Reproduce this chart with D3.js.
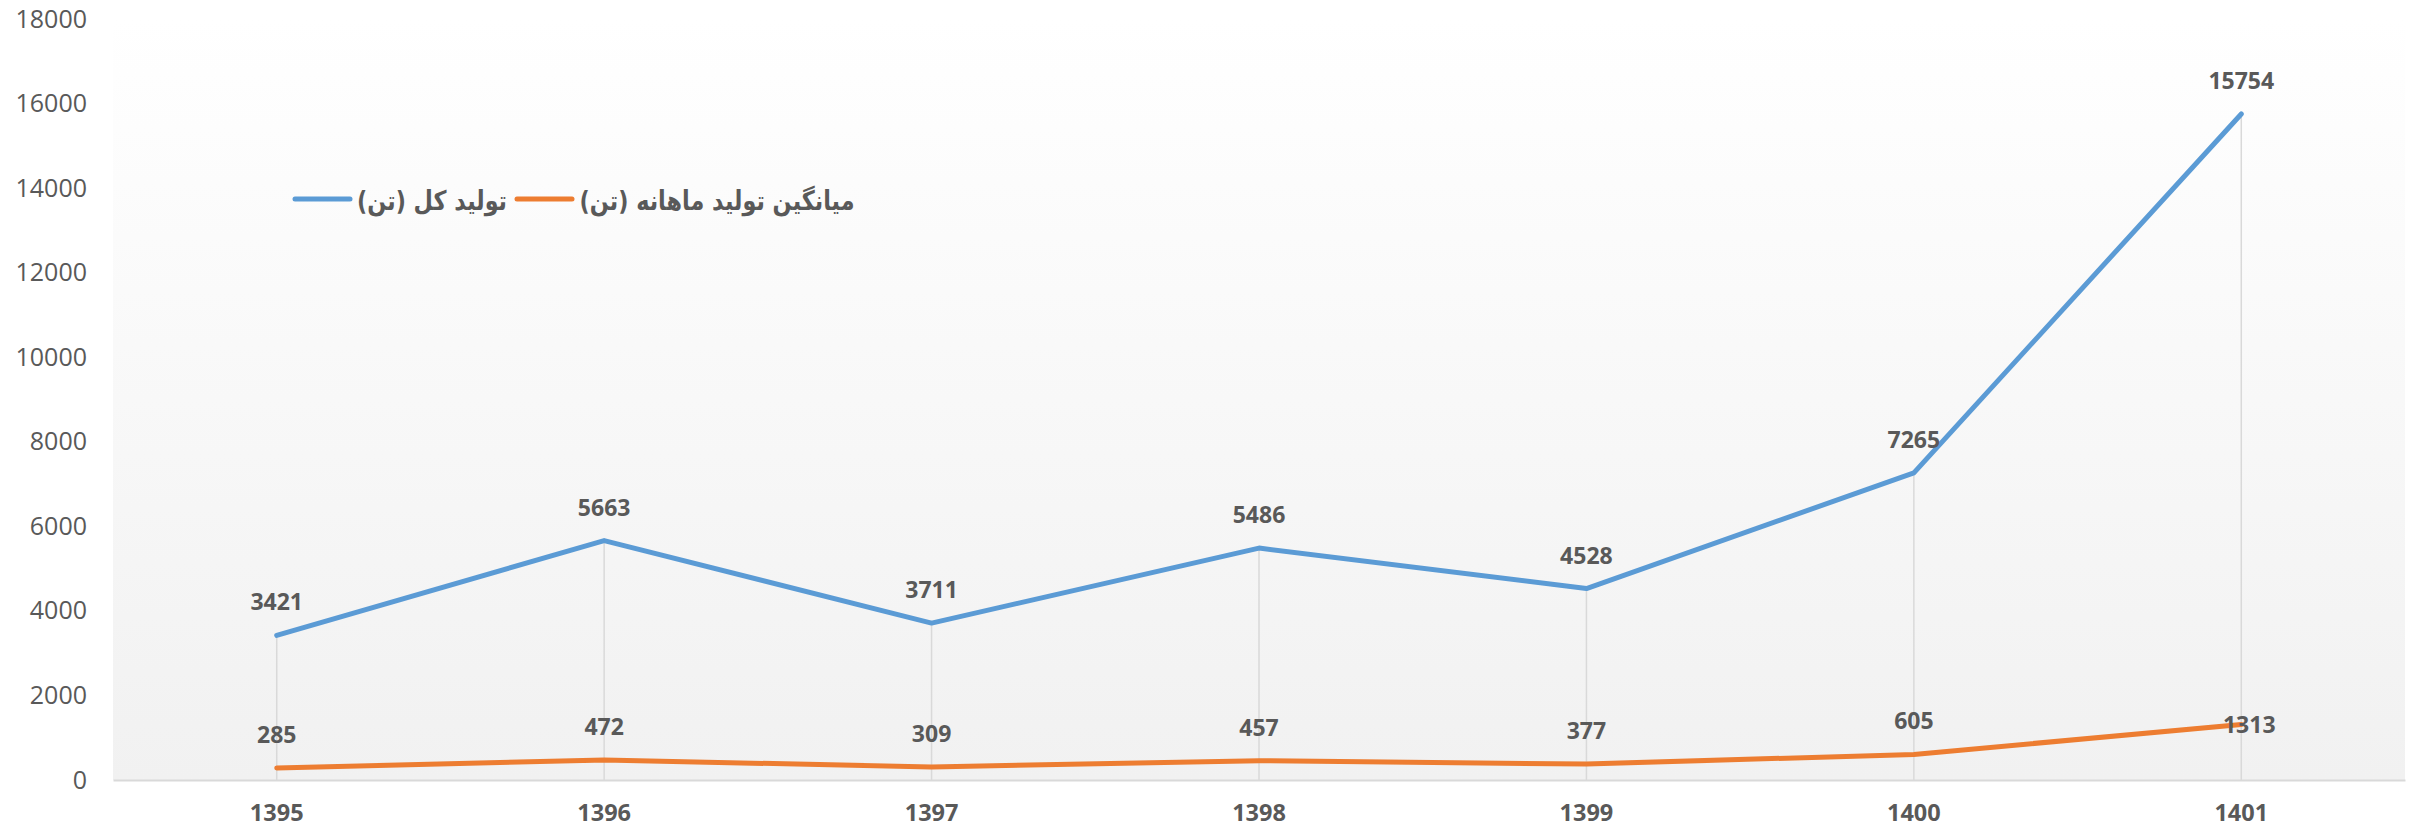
<!DOCTYPE html>
<html>
<head>
<meta charset="utf-8">
<script src="https://cdn.jsdelivr.net/npm/d3@7"></script>
<style>
  body { margin: 0; background: #ffffff; }
  svg { display: block; }
</style>
</head>
<body>
<svg id="drawing_region"></svg>
<script>
const years = ["1395", "1396", "1397", "1398", "1399", "1400", "1401"];
const total = [3421, 5663, 3711, 5486, 4528, 7265, 15754];
const monthly = [285, 472, 309, 457, 377, 605, 1313];
const yticks = [0, 2000, 4000, 6000, 8000, 10000, 12000, 14000, 16000, 18000];
const names = ["تولید کل (تن)", "میانگین تولید ماهانه (تن)"];

var config = {
    parent: '#drawing_region',
    width: 2415,
    height: 828,
    margin: {top:19, right:10, bottom:48, left:113}
};

class LineChart {

    constructor( config ) {
        this.config = config;
        this.series = [
            { name: names[0], values: total, color: '#5b9bd5' },
            { name: names[1], values: monthly, color: '#ed7d31' }
        ];
        this.init();
    }

    init() {
        let self = this;

        self.svg = d3.select( self.config.parent )
            .attr('width', self.config.width)
            .attr('height', self.config.height);

        self.inner_width = self.config.width - self.config.margin.left - self.config.margin.right;
        self.inner_height = self.config.height - self.config.margin.top - self.config.margin.bottom;

        self.chart = self.svg.append('g')
            .attr('transform', `translate(${self.config.margin.left}, ${self.config.margin.top})`);

        self.xscale = d3.scaleBand()
            .domain( years )
            .range( [0, self.inner_width] )
            .padding(0);

        self.yscale = d3.scaleLinear()
            .domain( [0, d3.max(yticks)] )
            .range( [self.inner_height, 0] );

        // plot area background, white to light gray
        const grad = self.svg.append('defs').append('linearGradient')
            .attr('id', 'bg')
            .attr('x1', 0).attr('y1', 0).attr('x2', 0).attr('y2', 1);
        grad.append('stop').attr('offset', '0%').attr('stop-color', '#ffffff');
        grad.append('stop').attr('offset', '100%').attr('stop-color', '#f1f1f1');

        self.chart.append('rect')
            .attr('x', 0)
            .attr('y', 0)
            .attr('width', self.inner_width)
            .attr('height', self.inner_height)
            .attr('fill', 'url(#bg)');
    }

    render() {
        let self = this;
        const cx = d => self.xscale(d) + self.xscale.bandwidth() / 2;

        // y axis labels only
        const yaxis = d3.axisLeft( self.yscale )
            .tickValues( yticks )
            .tickFormat( d3.format('d') )
            .tickSize(0)
            .tickPadding(26);
        const yg = self.chart.append('g').call( yaxis );
        yg.select('.domain').remove();
        yg.selectAll('text')
            .attr('fill', '#595959')
            .attr('font-family', '"Open Sans", sans-serif')
            .attr('font-size', '25px');

        // drop lines from the top series down to the axis
        self.chart.append('g').selectAll('line')
            .data(years)
            .join('line')
            .attr('x1', d => cx(d))
            .attr('x2', d => cx(d))
            .attr('y1', (d, i) => self.yscale(d3.max(self.series, s => s.values[i])))
            .attr('y2', self.yscale(0))
            .attr('stroke', '#d9d9d9')
            .attr('stroke-width', 1.5);

        // x axis
        const xaxis = d3.axisBottom( self.xscale )
            .tickSize(0)
            .tickSizeOuter(0);
        const xg = self.chart.append('g')
            .attr('transform', `translate(0, ${self.inner_height})`)
            .call( xaxis );
        xg.select('.domain')
            .attr('stroke', '#d9d9d9')
            .attr('stroke-width', 2);
        xg.selectAll('text')
            .attr('y', 33)
            .attr('dy', '0.35em')
            .attr('fill', '#595959')
            .attr('font-family', '"Open Sans", sans-serif')
            .attr('font-weight', 'bold')
            .attr('font-size', '23.5px');

        // lines
        const line = d3.line()
            .x((d, i) => cx(years[i]))
            .y(d => self.yscale(d));

        self.chart.append('g').selectAll('path')
            .data(self.series)
            .join('path')
            .attr('d', s => line(s.values))
            .attr('fill', 'none')
            .attr('stroke', s => s.color)
            .attr('stroke-width', 5)
            .attr('stroke-linejoin', 'round')
            .attr('stroke-linecap', 'round');

        // data labels (last monthly label sits on its point)
        self.series.forEach( (s, si) => {
            self.chart.append('g').selectAll('text')
                .data(s.values)
                .join('text')
                .attr('x', (d, i) => cx(years[i]) + (si == 1 && i == years.length - 1 ? 8 : 0))
                .attr('y', (d, i) => self.yscale(d) - (si == 1 && i == years.length - 1 ? 0 : 33))
                .attr('dy', '0.35em')
                .attr('text-anchor', 'middle')
                .attr('fill', '#595959')
                .attr('font-family', '"Open Sans", sans-serif')
                .attr('font-weight', 'bold')
                .attr('font-size', '23px')
                .text(d => d);
        });

        // legend
        const legend = self.svg.append('g');
        const items = [
            { sx: 295, tx: 432, tw: 150, s: self.series[0] },
            { sx: 517, tx: 717, tw: 275, s: self.series[1] }
        ];
        items.forEach( it => {
            legend.append('line')
                .attr('x1', it.sx).attr('x2', it.sx + 55)
                .attr('y1', 199).attr('y2', 199)
                .attr('stroke', it.s.color)
                .attr('stroke-width', 5)
                .attr('stroke-linecap', 'round');
            legend.append('text')
                .attr('x', it.tx)
                .attr('y', 210)
                .attr('direction', 'rtl')
                .attr('text-anchor', 'middle')
                .attr('fill', '#595959')
                .attr('font-family', '"DejaVu Sans", sans-serif')
                .attr('font-weight', 'bold')
                .attr('font-size', '27px')
                .attr('textLength', it.tw)
                .attr('lengthAdjust', 'spacingAndGlyphs')
                .text(it.s.name);
        });
    }
}

const line_chart = new LineChart( config );
line_chart.render();
</script>
</body>
</html>
